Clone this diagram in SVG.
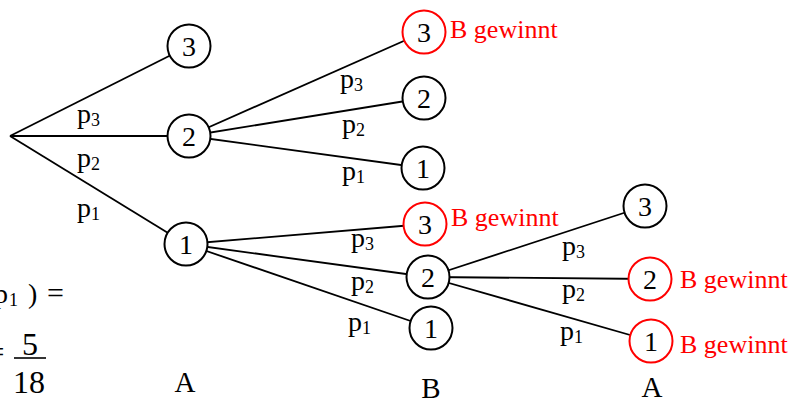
<svg xmlns="http://www.w3.org/2000/svg" width="805" height="403" viewBox="0 0 805 403">
<style>
text{font-family:"Liberation Serif","Times New Roman",serif;fill:#000}
.e{stroke:#000;stroke-width:1.8;fill:none}
.n{fill:#fff;stroke:#000;stroke-width:2}
.r{fill:#fff;stroke:#f00;stroke-width:2}
.d{font-size:28px;text-anchor:middle}
.p{font-size:28px}
.s{font-size:18px}
.w{font-size:26px;fill:#f00}
.l{font-size:29px;text-anchor:middle}
</style>
<rect width="805" height="403" fill="#fff"/>
<g id="connectors">
<line class="e" x1="10" y1="136" x2="189" y2="46"/>
<line class="e" x1="10" y1="136" x2="189" y2="136"/>
<line class="e" x1="10" y1="136" x2="186" y2="244"/>
<line class="e" x1="189" y1="136" x2="424" y2="32"/>
<line class="e" x1="189" y1="136" x2="424" y2="98"/>
<line class="e" x1="189" y1="136" x2="423" y2="168"/>
<line class="e" x1="186" y1="244" x2="425" y2="224"/>
<line class="e" x1="186" y1="244" x2="428" y2="277"/>
<line class="e" x1="186" y1="244" x2="431" y2="328"/>
<line class="e" x1="428" y1="277" x2="645" y2="206"/>
<line class="e" x1="428" y1="277" x2="650" y2="279"/>
<line class="e" x1="428" y1="277" x2="651" y2="341"/>
</g>
<g id="edge-labels">
<text class="p" x="77" y="123">p<tspan class="s" dy="3">3</tspan></text>
<text class="p" x="77" y="167">p<tspan class="s" dy="3">2</tspan></text>
<text class="p" x="77" y="217">p<tspan class="s" dy="3">1</tspan></text>
<text class="p" x="340" y="88">p<tspan class="s" dy="3">3</tspan></text>
<text class="p" x="342" y="133">p<tspan class="s" dy="3">2</tspan></text>
<text class="p" x="342" y="180">p<tspan class="s" dy="3">1</tspan></text>
<text class="p" x="351" y="247">p<tspan class="s" dy="3">3</tspan></text>
<text class="p" x="351" y="290">p<tspan class="s" dy="3">2</tspan></text>
<text class="p" x="348" y="331">p<tspan class="s" dy="3">1</tspan></text>
<text class="p" x="562" y="255">p<tspan class="s" dy="3">3</tspan></text>
<text class="p" x="562" y="298">p<tspan class="s" dy="3">2</tspan></text>
<text class="p" x="560" y="340">p<tspan class="s" dy="3">1</tspan></text>
</g>
<g id="a3"><circle class="n" cx="189" cy="46" r="21.5"/><text class="d" x="189" y="56">3</text></g>
<g id="a2"><circle class="n" cx="189" cy="136" r="21.5"/><text class="d" x="189" y="146">2</text></g>
<g id="a1"><circle class="n" cx="186" cy="244" r="21.5"/><text class="d" x="186" y="254">1</text></g>
<g id="b3-top"><circle class="r" cx="424" cy="32" r="21.5"/><text class="d" x="424" y="42">3</text><text class="w" x="450" y="38">B gewinnt</text></g>
<g id="b2-top"><circle class="n" cx="424" cy="98" r="21.5"/><text class="d" x="424" y="108">2</text></g>
<g id="b1-top"><circle class="n" cx="423" cy="168" r="21.5"/><text class="d" x="423" y="178">1</text></g>
<g id="b3-low"><circle class="r" cx="425" cy="224" r="21.5"/><text class="d" x="425" y="234">3</text><text class="w" x="451" y="226">B gewinnt</text></g>
<g id="b2-low"><circle class="n" cx="428" cy="277" r="21.5"/><text class="d" x="428" y="287">2</text></g>
<g id="b1-low"><circle class="n" cx="431" cy="328" r="21.5"/><text class="d" x="431" y="338">1</text></g>
<g id="c3"><circle class="n" cx="645" cy="206" r="21.5"/><text class="d" x="645" y="216">3</text></g>
<g id="c2"><circle class="r" cx="650" cy="279" r="21.5"/><text class="d" x="650" y="289">2</text><text class="w" x="680" y="288">B gewinnt</text></g>
<g id="c1"><circle class="r" cx="651" cy="341" r="21.5"/><text class="d" x="651" y="351">1</text><text class="w" x="680" y="353">B gewinnt</text></g>
<g id="level-labels">
<text class="l" x="185" y="392">A</text>
<text class="l" x="431" y="398">B</text>
<text class="l" x="652" y="397">A</text>
</g>
<g id="formula">
<text class="p" x="-6" y="303">p</text>
<text font-size="18" x="9" y="306">1</text>
<text class="p" x="28" y="303">)</text>
<text font-size="30" x="47" y="303">=</text>
<text font-size="30" x="4.5" y="362" text-anchor="end">=</text>
<text font-size="32" x="30" y="355" text-anchor="middle">5</text>
<line x1="14" y1="358" x2="46" y2="358" stroke="#000" stroke-width="1.6"/>
<text font-size="32" x="29" y="393" text-anchor="middle">18</text>
</g>
</svg>
